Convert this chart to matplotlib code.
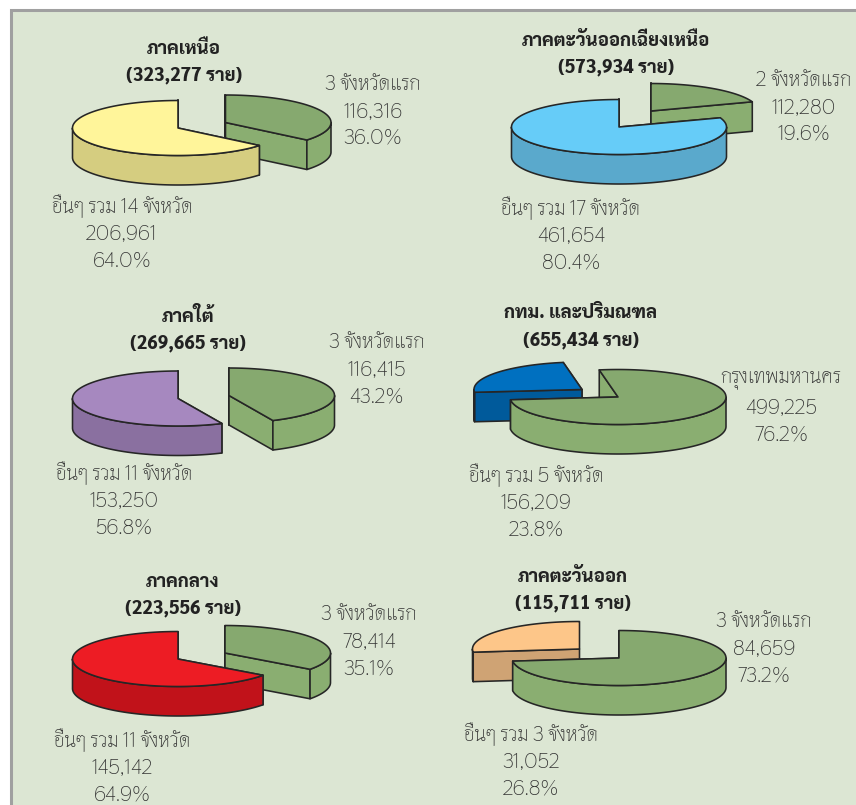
import matplotlib
matplotlib.use('Agg')
import matplotlib.pyplot as plt
import numpy as np

LABEL_FONT = ['Thasadith', 'DejaVu Sans']
TITLE_FONT = ['Sarabun', 'DejaVu Sans']

# data, one entry per panel
regions = ['ภาคเหนือ', 'ภาคตะวันออกเฉียงเหนือ', 'ภาคใต้', 'กทม. และปริมณฑล', 'ภาคกลาง', 'ภาคตะวันออก']
totals = [323277, 573934, 269665, 655434, 223556, 115711]
first_names = ['3 จังหวัดแรก', '2 จังหวัดแรก', '3 จังหวัดแรก', 'กรุงเทพมหานคร', '3 จังหวัดแรก', '3 จังหวัดแรก']
first_values = [116316, 112280, 116415, 499225, 78414, 84659]
first_pcts = [36.0, 19.6, 43.2, 76.2, 35.1, 73.2]
other_names = ['อื่นๆ รวม 14 จังหวัด', 'อื่นๆ รวม 17 จังหวัด', 'อื่นๆ รวม 11 จังหวัด',
               'อื่นๆ รวม 5 จังหวัด', 'อื่นๆ รวม 11 จังหวัด', 'อื่นๆ รวม 3 จังหวัด']
other_values = [206961, 461654, 153250, 156209, 145142, 31052]
other_pcts = [64.0, 80.4, 56.8, 23.8, 64.9, 26.8]

# colours of the "others" slice, top and side
other_tops = ['#fff59a', '#66ccf8', '#a688bf', '#0070c0', '#ed1c24', '#fdc689']
other_sides = ['#d5cd80', '#5aa9cc', '#8a70a0', '#005a9b', '#c1121a', '#cfa374']
green_top = '#86a96f'
green_side = '#8aae71'

# layout in pixels of the page
start_angles = [90, 90, 90, 100, 90, 90]
other_centers = [(178, 128), (619, 127), (178, 398.5), (582, 389.5), (178, 659), (579.5, 649)]
first_centers = [(225.5, 122.5), (651, 111), (229, 395.5), (618, 397), (225, 653), (619, 658)]
title_pos = [(184, 49, 75), (616, 41, 67), (188, 316, 343), (581, 313, 340), (183, 582, 608), (573, 577, 603)]
first_pos = [(373, 84), (804, 80), (377, 342), (781, 380), (369, 614), (764, 621)]
other_pos = [(122, 206), (571, 208), (124, 473), (536, 475), (122, 740), (531, 734)]
radii_x = [105.5, 107.5, 105.5, 108, 105.5, 107]
RY, DEPTH = 27.5, 29.5
LINE = 27


def rim(c, rx, t):
    t = np.radians(t)
    return c[0] + rx * np.cos(t), c[1] - RY * np.sin(t)


def draw_slice(ax, c, rx, a, b, top, side):
    # a, b in degrees, counterclockwise, a < b
    style = dict(edgecolor='#262626', linewidth=1.15, joinstyle='round')
    # cut faces, the one further back first
    faces = sorted([a, b], key=lambda t: rim(c, rx, t)[1])
    for t in faces:
        x, y = rim(c, rx, t)
        ax.fill([c[0], x, x, c[0]], [c[1], y, y + DEPTH, c[1] + DEPTH], facecolor=side, **style)
    # outer wall, only the front half of the ellipse shows
    for lo, hi in [(-180, 0), (180, 360), (540, 720)]:
        s, e = max(a, lo), min(b, hi)
        if e > s:
            t = np.linspace(s, e, 120)
            x, y = rim(c, rx, t)
            ax.fill(np.r_[x, x[::-1]], np.r_[y, y[::-1] + DEPTH], facecolor=side, **style)
    # top surface
    t = np.linspace(a, b, 240)
    x, y = rim(c, rx, t)
    ax.fill(np.r_[c[0], x], np.r_[c[1], y], facecolor=top, **style)


def main():
    fig = plt.figure(figsize=(8.56, 8.05), dpi=100, facecolor='white')
    ax = fig.add_axes([0, 0, 1, 1])
    ax.set_xlim(0, 856)
    ax.set_ylim(805, 0)
    ax.axis('off')
    ax.add_patch(plt.Rectangle((11.5, 10.5), 900, 850, facecolor='#dce6d3', edgecolor='#a0a0a0', linewidth=2.2))

    for i in range(len(regions)):
        other_span = 360 * other_values[i] / totals[i]
        first_span = 360 * first_values[i] / totals[i]
        s = start_angles[i]
        big_other = (s, s + other_span, other_centers[i], other_tops[i], other_sides[i])
        big_first = (s - first_span, s, first_centers[i], green_top, green_side)
        # smaller slice goes behind
        pair = [big_first, big_other] if first_span < other_span else [big_other, big_first]
        for a, b, c, top, side in pair:
            draw_slice(ax, c, radii_x[i], a, b, top, side)

        x, y1, y2 = title_pos[i]
        for y, txt in [(y1, regions[i]), (y2, f'({totals[i]:,} ราย)')]:
            ax.text(x, y, txt, ha='center', va='center', fontsize=13.3, fontweight=800,
                    family=TITLE_FONT, color='#222222')
        for (x, y), name, val, pct in [(first_pos[i], first_names[i], first_values[i], first_pcts[i]),
                                       (other_pos[i], other_names[i], other_values[i], other_pcts[i])]:
            for k, txt in enumerate([name, f'{val:,}', f'{pct:.1f}%']):
                ax.text(x, y + k * LINE, txt, ha='center', va='center', fontsize=15,
                        family=LABEL_FONT, color='#333333')

    fig.savefig('out.png', dpi=100)


if __name__ == '__main__':
    main()
